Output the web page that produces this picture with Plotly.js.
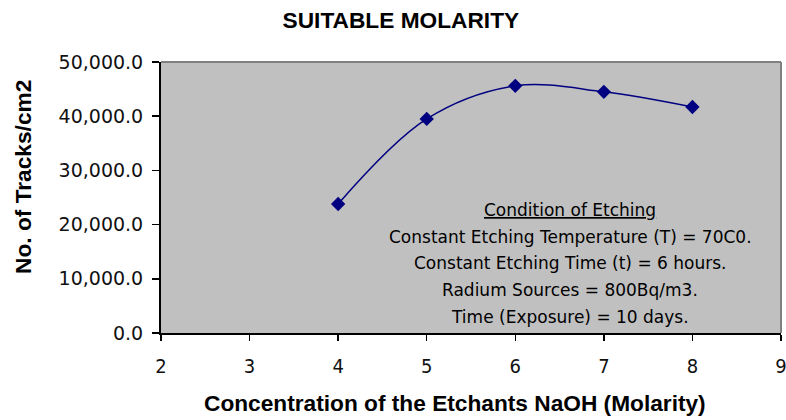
<!DOCTYPE html>
<html><head><meta charset="utf-8">
<script src="https://cdn.plot.ly/plotly-3.0.1.min.js"></script>
<style>html,body{margin:0;padding:0;background:#fff}#chart{width:786px;height:420px}</style>
</head><body><div id="chart"></div>
<script>
var molarity = [4, 5, 6, 7, 8];
var tracks = [23800, 39500, 45600, 44500, 41700];
var xTicks = [2, 3, 4, 5, 6, 7, 8, 9];
var yTicks = [0, 10000, 20000, 30000, 40000, 50000];
var chartTitle = "SUITABLE MOLARITY";
var xTitle = "Concentration of the Etchants NaOH (Molarity)";
var yTitle = "No. of Tracks/cm2";
var noteLines = [
  "<u>Condition of Etching</u>",
  "Constant Etching Temperature (T) = 70C0.",
  "Constant Etching Time (t) = 6 hours.",
  "Radium Sources = 800Bq/m3.",
  "Time (Exposure) = 10 days."
];

var trace = {
  x: molarity, y: tracks, type: "scatter", mode: "lines+markers",
  line: {color: "#000080", width: 1.5, shape: "spline", smoothing: 1},
  marker: {symbol: "diamond", size: 11, color: "#000080"},
  hoverinfo: "none"
};

var notePos = [0.454, 0.354, 0.258, 0.159, 0.059];
var annotations = noteLines.map(function (t, i) {
  return {
    xref: "paper", yref: "paper", x: 0.66, y: notePos[i], xanchor: "center", yanchor: "middle",
    text: t, showarrow: false, align: "center",
    font: {size: 17, family: "DejaVu Sans, sans-serif", color: "#000"}
  };
});
annotations.push({
  xref: "paper", yref: "paper", x: 0.474, y: -0.258, xanchor: "center", yanchor: "middle",
  text: "<b>" + xTitle + "</b>", showarrow: false,
  font: {size: 22.7, family: "Liberation Sans, Arial, sans-serif", color: "#000"}
});
annotations.push({
  xref: "paper", yref: "paper", x: -0.2226, y: 0.576, xanchor: "center", yanchor: "middle",
  text: "<b>" + yTitle + "</b>", showarrow: false, textangle: -90,
  font: {size: 22.7, family: "Liberation Sans, Arial, sans-serif", color: "#000"}
});

var layout = {
  width: 786, height: 420,
  margin: {l: 161, r: 5, t: 62, b: 87},
  paper_bgcolor: "#ffffff",
  plot_bgcolor: "#c0c0c0",
  showlegend: false,
  font: {family: "Liberation Sans, Arial, sans-serif", color: "#000"},
  title: {text: "<b>" + chartTitle + "</b>", x: 0.510, xref: "container", xanchor: "center",
          y: 0.952, yref: "container", yanchor: "middle",
          font: {size: 22.7, family: "Liberation Sans, Arial, sans-serif", color: "#000"}},
  xaxis: {
    range: [2, 9], tickvals: xTicks, ticktext: xTicks.map(String),
    showgrid: false, zeroline: false,
    showline: true, linecolor: "#000", linewidth: 2,
    ticks: "outside", ticklen: 6, tickcolor: "#000", tickwidth: 1.5,
    ticklabelstandoff: 8, ticklabeloverflow: "allow",
    tickfont: {size: 20, family: "Liberation Sans Narrow, DejaVu Sans Condensed, Liberation Sans, sans-serif", color: "#111"}
  },
  yaxis: {
    range: [0, 50000], tickvals: yTicks, tickformat: ",.1f",
    showgrid: false, zeroline: false,
    showline: true, linecolor: "#000", linewidth: 2,
    ticks: "outside", ticklen: 7, tickcolor: "#000", tickwidth: 1.5,
    ticklabelstandoff: 5,
    tickfont: {size: 19, family: "DejaVu Sans, sans-serif", color: "#111"}
  },
  shapes: [
    {type: "line", xref: "paper", yref: "paper", x0: 0, x1: 1, y0: 1, y1: 1, line: {color: "#808080", width: 2}},
    {type: "line", xref: "paper", yref: "paper", x0: 1, x1: 1, y0: 0, y1: 1, line: {color: "#808080", width: 2}}
  ],
  annotations: annotations
};

Plotly.newPlot("chart", [trace], layout, {displayModeBar: false, staticPlot: true});
</script>
</body></html>
